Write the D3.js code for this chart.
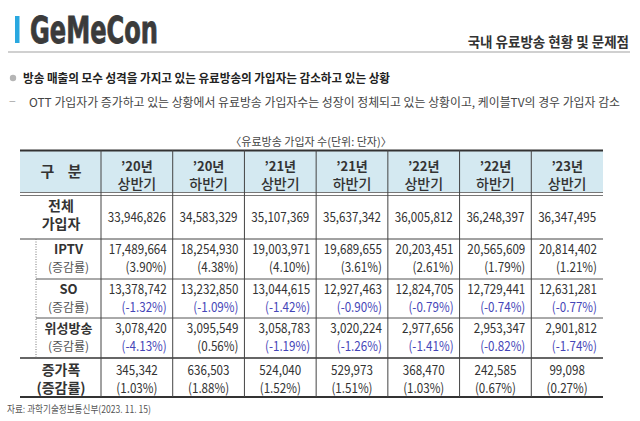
<!DOCTYPE html>
<html><head><meta charset="utf-8">
<script src="https://cdn.jsdelivr.net/npm/d3@7"></script>
<style>body{margin:0;background:#fff}svg{display:block}</style>
</head><body><svg id="c" width="640" height="421"></svg>
<script>
// ---- data ----
const periodYears = ["’20년","’20년","’21년","’21년","’22년","’22년","’23년"];
const periodHalves = ["상반기","하반기","상반기","하반기","상반기","하반기","상반기"];
const totalSubs = [33946826,34583329,35107369,35637342,36005812,36248397,36347495];
const iptvSubs = [17489664,18254930,19003971,19689655,20203451,20565609,20814402];
const iptvRate = [3.90,4.38,4.10,3.61,2.61,1.79,1.21];
const soSubs = [13378742,13232850,13044615,12927463,12824705,12729441,12631281];
const soRate = [-1.32,-1.09,-1.42,-0.90,-0.79,-0.74,-0.77];
const satSubs = [3078420,3095549,3058783,3020224,2977656,2953347,2901812];
const satRate = [-4.13,0.56,-1.19,-1.26,-1.41,-0.82,-1.74];
const incSubs = [345342,636503,524040,529973,368470,242585,99098];
const incRate = [1.03,1.88,1.52,1.51,1.03,0.67,0.27];
const subLabels = ["IPTV","SO","위성방송"];

const svg = d3.select("#c");
const KR = "'Noto Sans CJK KR','Noto Sans',sans-serif";
const fmt = d3.format(",");
const pct = v => "(" + v.toFixed(2) + "%)";
const squeeze = (sel,k) => sel.each(function(){
  const w = this.getComputedTextLength();
  d3.select(this).attr("textLength", w*k).attr("lengthAdjust","spacingAndGlyphs");
});

// ---- page header ----
svg.append("rect").attr("x",15).attr("y",16).attr("width",4.5).attr("height",27).attr("fill","#29a8e0");
svg.append("text").attr("x",30).attr("y",43).text("GeMeCon")
  .attr("font-family","'Liberation Sans Narrow','DejaVu Sans Condensed',sans-serif")
  .attr("font-weight","bold").attr("font-size",37).attr("fill","#3b3b3b")
  .attr("stroke","#3b3b3b").attr("stroke-width",0.8)
  .attr("textLength",128).attr("lengthAdjust","spacingAndGlyphs");
svg.append("text").attr("x",629).attr("y",46.5).attr("text-anchor","end")
  .attr("font-family",KR).attr("font-weight",700).attr("font-size",13.5).attr("fill","#333")
  .text("국내 유료방송 현황 및 문제점");
svg.append("line").attr("x1",8).attr("x2",630).attr("y1",52).attr("y2",52).attr("stroke","#d0d0d0").attr("stroke-width",2);

svg.append("circle").attr("cx",13).attr("cy",78).attr("r",3.2).attr("fill","#b5b5b5");
svg.append("text").attr("x",23).attr("y",82.5).attr("font-family",KR).attr("font-weight",700)
  .attr("font-size",12).attr("fill","#222").attr("textLength",367).attr("lengthAdjust","spacingAndGlyphs")
  .text("방송 매출의 모수 성격을 가지고 있는 유료방송의 가입자는 감소하고 있는 상황");
svg.append("text").attr("x",9).attr("y",106).attr("font-family",KR).attr("font-size",12).attr("fill","#aaa").text("−");
svg.append("text").attr("x",29).attr("y",106.5).attr("font-family",KR).attr("font-size",12)
  .attr("fill","#444").attr("textLength",591).attr("lengthAdjust","spacingAndGlyphs")
  .text("OTT 가입자가 증가하고 있는 상황에서 유료방송 가입자수는 성장이 정체되고 있는 상황이고, 케이블TV의 경우 가입자 감소");

svg.append("text").attr("x",311).attr("y",146).attr("text-anchor","middle").attr("font-family",KR)
  .attr("font-size",11).attr("fill","#444").text("〈유료방송 가입자 수(단위: 단자)〉");
svg.append("text").attr("x",7).attr("y",413).attr("font-family",KR)
  .attr("font-size",9.8).attr("fill","#555").attr("textLength",144).attr("lengthAdjust","spacingAndGlyphs")
  .text("자료: 과학기술정보통신부(2023. 11. 15)");

// ---- table scales ----
const idx = d3.range(periodYears.length);
const x = d3.scaleBand().domain(idx).range([101,603]).padding(0);
const left = 20, subLeft = 36, right = 603;
const rowKeys = ["head","total","iptv","so","sat","inc"];
const rowH = [44,45,40,39,40,39];
const tops = d3.cumsum([150,...rowH]);
const y = d3.scaleOrdinal().domain(rowKeys).range(tops.slice(0,6).map(v=>v));
const yEnd = k => y(k) + rowH[rowKeys.indexOf(k)];

// header fill
svg.append("rect").attr("x",left).attr("y",y("head")).attr("width",right-left).attr("height",43).attr("fill","#d4e9f1");

// horizontal lines
const hl = (x1,yy,w,c) => svg.append("line").attr("x1",x1).attr("x2",right).attr("y1",yy).attr("y2",yy).attr("stroke",c).attr("stroke-width",w);
hl(left,y("head")+0.5,2,"#333");
hl(left,yEnd("head")-1.5,1,"#777");
hl(left,yEnd("head")+1.5,1,"#777");
hl(left,y("iptv"),1,"#444");
hl(subLeft,y("so"),1,"#555");
hl(subLeft,y("sat"),1,"#555");
hl(left,y("inc"),1.6,"#333");
hl(left,yEnd("inc"),2,"#333");

// vertical lines
svg.selectAll("line.v").data(idx).join("line").attr("class","v")
  .attr("x1",d=>x(d)).attr("x2",d=>x(d)).attr("y1",y("head")).attr("y2",yEnd("inc"))
  .attr("stroke","#444").attr("stroke-width",1);
svg.append("line").attr("x1",subLeft).attr("x2",subLeft).attr("y1",y("iptv")).attr("y2",y("inc"))
  .attr("stroke","#777").attr("stroke-dasharray","1,1.5");

// header text
svg.append("text").attr("x",61).attr("y",177).attr("text-anchor","middle").attr("font-family",KR)
  .attr("font-weight",700).attr("font-size",15).attr("fill","#333").attr("xml:space","preserve").text("구    분");
const hd = svg.selectAll("g.hd").data(idx).join("g").attr("class","hd");
hd.append("text").attr("x",d=>x(d)+x.bandwidth()/2).attr("y",170.5).attr("text-anchor","middle")
  .attr("font-family",KR).attr("font-weight",700).attr("font-size",13).attr("fill","#333").text(d=>periodYears[d]);
hd.append("text").attr("x",d=>x(d)+x.bandwidth()/2).attr("y",189).attr("text-anchor","middle")
  .attr("font-family",KR).attr("font-weight",500).attr("font-size",14).attr("fill","#333").text(d=>periodHalves[d]);

// total row
const lblC = (t,cx,yy,fs,w,c) => svg.append("text").attr("x",cx).attr("y",yy).attr("text-anchor","middle")
  .attr("font-family",KR).attr("font-weight",w).attr("font-size",fs).attr("fill",c).text(t);
lblC("전체",61,210.5,14,700,"#333");
lblC("가입자",61,229,14,700,"#333");
const NK = 0.86;
svg.selectAll("text.tot").data(totalSubs).join("text").attr("class","tot")
  .attr("x",(d,i)=>x(i)+x.bandwidth()/2).attr("y",222).attr("text-anchor","middle")
  .attr("font-family",KR).attr("font-size",13.5).attr("fill","#333").text(d=>fmt(d)).call(squeeze,NK);

// sub rows
const subs = [[iptvSubs,iptvRate,"iptv"],[soSubs,soRate,"so"],[satSubs,satRate,"sat"]];
subs.forEach(([vals,rates,key],si)=>{
  const t = y(key);
  lblC(subLabels[si],68.5,t+14.5,13,700,"#333");
  lblC("(증감률)",68.5,t+33,12,400,"#555");
  svg.selectAll("text.n"+key).data(vals).join("text").attr("class","n"+key)
    .attr("x",(d,i)=>x(i)+x.bandwidth()-6).attr("y",t+14.5).attr("text-anchor","end")
    .attr("font-family",KR).attr("font-size",13.5).attr("fill","#333").text(d=>fmt(d)).call(squeeze,NK);
  svg.selectAll("text.r"+key).data(rates).join("text").attr("class","r"+key)
    .attr("x",(d,i)=>x(i)+x.bandwidth()-6).attr("y",t+33).attr("text-anchor","end")
    .attr("font-family",KR).attr("font-size",13.5).attr("fill",d=>d<0?"#4646b8":"#333").text(d=>pct(d)).call(squeeze,NK);
});

// increase row
const ti = y("inc");
lblC("증가폭",61,ti+16.5,14,700,"#333");
lblC("(증감률)",61,ti+35,14,700,"#333");
svg.selectAll("text.inc").data(incSubs).join("text").attr("class","inc")
  .attr("x",(d,i)=>x(i)+x.bandwidth()/2).attr("y",ti+16.5).attr("text-anchor","middle")
  .attr("font-family",KR).attr("font-size",13.5).attr("fill","#333").text(d=>fmt(d)).call(squeeze,NK);
svg.selectAll("text.incr").data(incRate).join("text").attr("class","incr")
  .attr("x",(d,i)=>x(i)+x.bandwidth()/2).attr("y",ti+35).attr("text-anchor","middle")
  .attr("font-family",KR).attr("font-size",13.5).attr("fill","#333").text(d=>pct(d)).call(squeeze,NK);
</script></body></html>
